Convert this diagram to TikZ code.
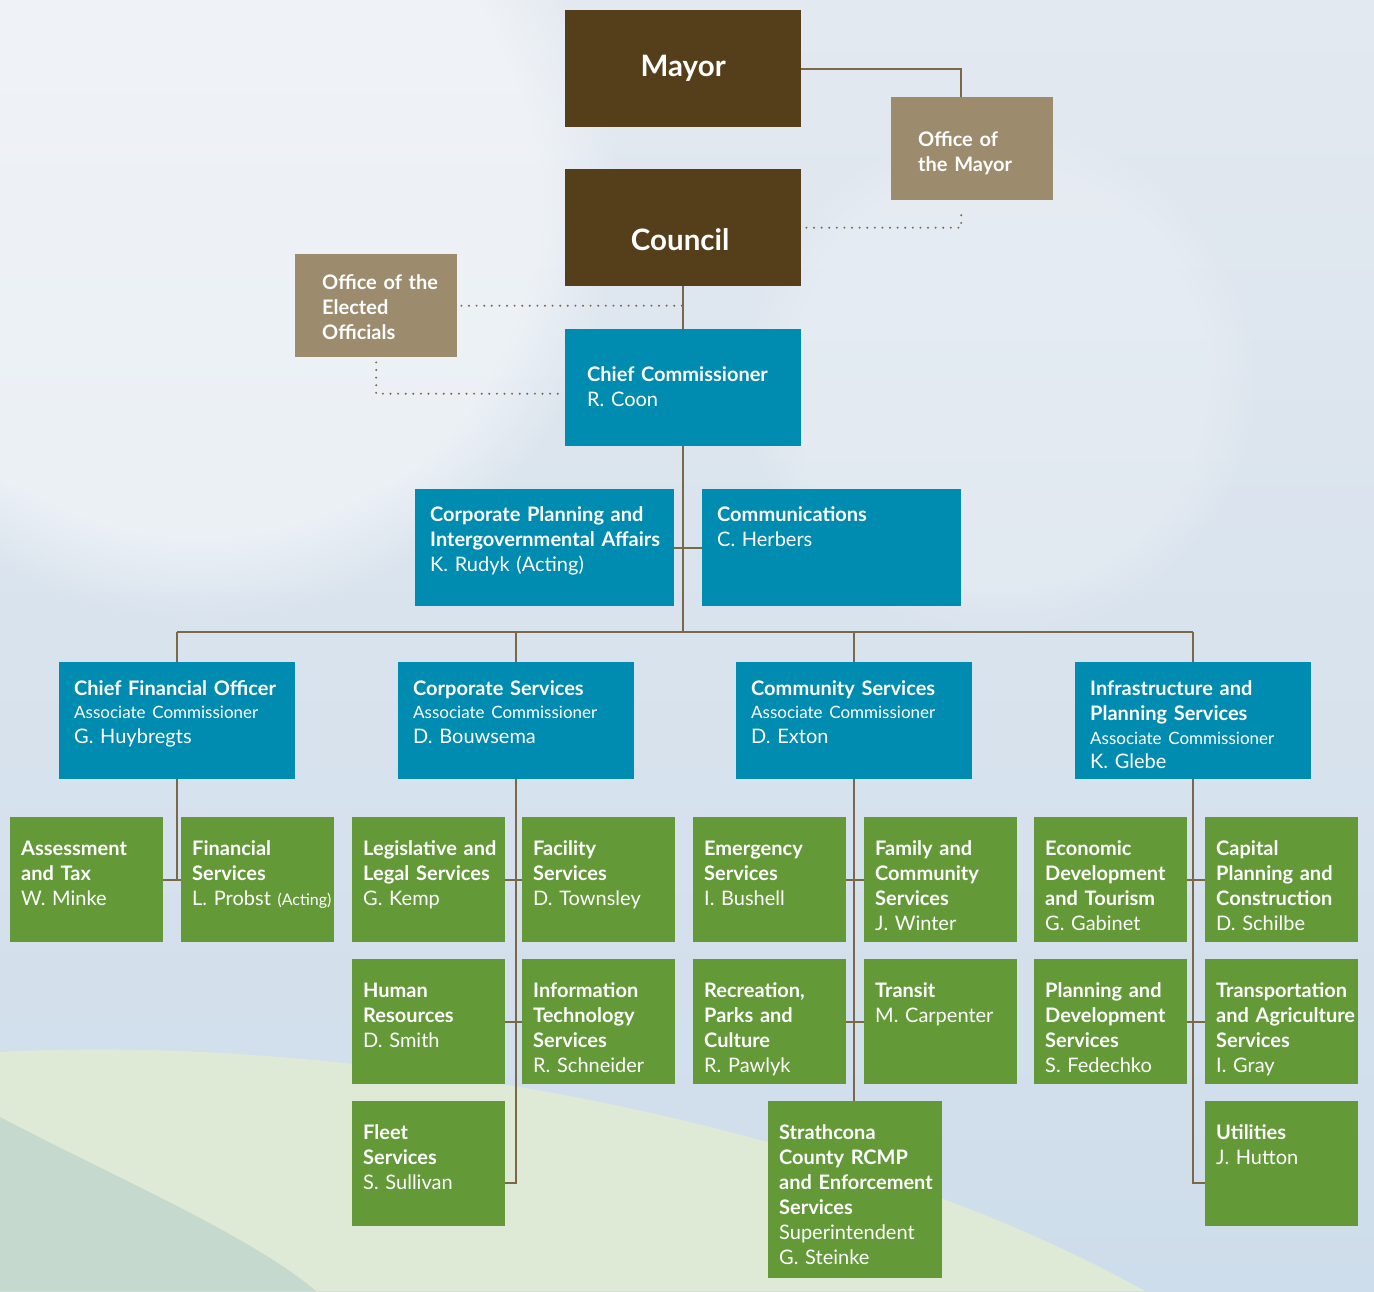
\documentclass[tikz,border=0pt]{standalone}
\usepackage{fontspec}
\setmainfont{Lato}
\usetikzlibrary{fadings}
\definecolor{mayorbrown}{HTML}{553F1A}
\definecolor{officetan}{HTML}{9C8B6D}
\definecolor{orgblue}{HTML}{008BB0}
\definecolor{orggreen}{HTML}{639A37}
\definecolor{linkbrown}{HTML}{7A6847}
\definecolor{skytop}{HTML}{E3E9F0}
\definecolor{skybottom}{HTML}{CEDDEB}
\definecolor{hilllight}{HTML}{DFEAD6}
\definecolor{hilldark}{HTML}{C5D9CE}
\newcommand\assocfont{\fontsize{17}{25}\selectfont}
\tikzset{
  orgbox/.style={anchor=north west, text=white, align=left, inner sep=0pt,
    font=\fontsize{20}{25}\selectfont},
  greenbox/.style={orgbox, fill=orggreen, text width=153pt,
    text height=38pt, text depth=87pt,
    execute at begin node={\hyphenpenalty=10000 \leftskip=11pt}},
  bluebox/.style={orgbox, fill=orgblue, text width=236pt,
    text height=33pt, text depth=84pt,
    execute at begin node={\hyphenpenalty=10000 \leftskip=15pt}},
  tanbox/.style={orgbox, fill=officetan, text width=162pt,
    execute at begin node={\hyphenpenalty=10000 \leftskip=27pt}},
  brownbox/.style={anchor=north west, text=white, fill=mayorbrown, align=center,
    inner sep=0pt, text width=236pt, font=\fontsize{29.5}{30}\selectfont\bfseries},
  conn/.style={draw=linkbrown, line width=2pt},
  dotconn/.style={draw=linkbrown, line width=2.2pt, line cap=round,
    dash pattern=on 0pt off 7.6pt}
}
\begin{document}
\begin{tikzpicture}[x=1pt,y=-1pt]
\useasboundingbox (0,0) rectangle (1374,1291);
% sky and hills
\shade[top color=skytop, bottom color=skybottom] (0,0) rectangle (1374,1291);
\fill[white, opacity=0.45, path fading=circle with fuzzy edge 20 percent] (200,200) circle (420);
\fill[white, opacity=0.2, path fading=circle with fuzzy edge 20 percent] (1000,380) circle (260);
\fill[hilllight] (0,1052) .. controls (300,1035) and (800,1100) .. (1145,1291) -- (0,1291) -- cycle;
\fill[hilldark] (0,1117) .. controls (110,1175) and (250,1235) .. (316,1291) -- (0,1291) -- cycle;

% top of the chart
\node[brownbox, text height=66pt, text depth=51pt] (mayor) at (565,10) {Mayor};
\node[brownbox, text height=81pt, text depth=36pt] (council) at (565,169) {\hspace*{-6pt}Council};
\node[tanbox, text height=49pt, text depth=54pt] (omayor) at (891,97)
  {\textbf{Office of}\\\textbf{the Mayor}};
\node[tanbox, text height=35pt, text depth=68pt] (oelect) at (295,254)
  {\textbf{Office of the}\\\textbf{Elected}\\\textbf{Officials}};
\node[bluebox, text height=52pt, text depth=65pt, execute at begin node={\leftskip=22pt}] (chief) at (565,329)
  {\textbf{Chief Commissioner}\\R. Coon};
\node[bluebox, text width=259pt, text height=32pt, text depth=85pt] (cpia) at (415,489)
  {\textbf{Corporate Planning and}\\\textbf{Intergovernmental Affairs}\\K. Rudyk (Acting)};
\node[bluebox, text width=259pt, text height=32pt, text depth=85pt] (comms) at (702,489)
  {\textbf{Communications}\\C. Herbers};
\coordinate (bus) at (0,632);

% associate commissioners
\node[bluebox] (cfo) at (59,662)
  {\textbf{Chief Financial Officer}\\[-2pt]{\assocfont Associate Commissioner}\\G. Huybregts};
\node[bluebox] (corp) at (398,662)
  {\textbf{Corporate Services}\\[-2pt]{\assocfont Associate Commissioner}\\D. Bouwsema};
\node[bluebox] (commsvc) at (736,662)
  {\textbf{Community Services}\\[-2pt]{\assocfont Associate Commissioner}\\D. Exton};
\node[bluebox] (infra) at (1075,662)
  {\textbf{Infrastructure and}\\\textbf{Planning Services}\\[-1pt]{\assocfont Associate Commissioner}\\[-1pt]K. Glebe};

% departments
\node[greenbox] (asmt) at (10,817) {\textbf{Assessment}\\\textbf{and Tax}\\W. Minke};
\node[greenbox] (finsvc) at (181,817) {\textbf{Financial}\\\textbf{Services}\\\mbox{L. Probst {\fontsize{16}{25}\selectfont(Acting)}}};
\node[greenbox] (legal) at (352,817) {\textbf{Legislative and}\\\textbf{Legal Services}\\G. Kemp};
\node[greenbox] (facil) at (522,817) {\textbf{Facility}\\\textbf{Services}\\D. Townsley};
\node[greenbox] (emerg) at (693,817) {\textbf{Emergency}\\\textbf{Services}\\I. Bushell};
\node[greenbox] (family) at (864,817) {\textbf{Family and}\\\textbf{Community}\\\textbf{Services}\\J. Winter};
\node[greenbox] (econ) at (1034,817) {\textbf{Economic}\\\textbf{Development}\\\textbf{and Tourism}\\G. Gabinet};
\node[greenbox] (capital) at (1205,817) {\textbf{Capital}\\\textbf{Planning and}\\\textbf{Construction}\\D. Schilbe};

\node[greenbox] (hr) at (352,959) {\textbf{Human}\\\textbf{Resources}\\D. Smith};
\node[greenbox] (it) at (522,959) {\textbf{Information}\\\textbf{Technology}\\\textbf{Services}\\R. Schneider};
\node[greenbox] (rec) at (693,959) {\textbf{Recreation,}\\\textbf{Parks and}\\\textbf{Culture}\\R. Pawlyk};
\node[greenbox] (transit) at (864,959) {\textbf{Transit}\\M. Carpenter};
\node[greenbox] (plan) at (1034,959) {\textbf{Planning and}\\\textbf{Development}\\\textbf{Services}\\S. Fedechko};
\node[greenbox] (transp) at (1205,959) {\textbf{Transportation}\\\textbf{and Agriculture}\\\textbf{Services}\\I. Gray};

\node[greenbox] (fleet) at (352,1101) {\textbf{Fleet}\\\textbf{Services}\\S. Sullivan};
\node[greenbox, text width=174pt, text depth=139pt] (rcmp) at (768,1101)
  {\textbf{Strathcona}\\\textbf{County RCMP}\\\textbf{and Enforcement}\\\textbf{Services}\\Superintendent\\G. Steinke};
\node[greenbox] (util) at (1205,1101) {\textbf{Utilities}\\J. Hutton};

% connectors
\draw[conn] (mayor.east) -| ([xshift=-11pt]omayor.north);
\draw[dotconn] ([xshift=5pt]council.east) -| ([xshift=-11pt,yshift=-9pt]omayor.south);
\draw[dotconn] ([xshift=4pt]oelect.east) -- (oelect.east -| council.south);
\draw[dotconn] ([yshift=-5pt]oelect.south) |- ([xshift=-4pt,yshift=-6pt]chief.west);
\draw[conn] (council.south) -- (chief.north);
\draw[conn] (chief.south) -- (chief.south |- bus);
\draw[conn] (cpia.east) -- (comms.west);
\draw[conn] (cfo.north |- bus) -- (infra.north |- bus);
\foreach \n in {cfo,corp,commsvc,infra}
  \draw[conn] (\n.north) -- (\n.north |- bus);

\coordinate (fleetstub) at ([yshift=-19pt]fleet.east);
\coordinate (utilstub) at ([yshift=-19pt]util.west);
\draw[conn] (cfo.south) -- (cfo.south |- asmt.east);
\draw[conn] (asmt.east) -- (finsvc.west);
\draw[conn] (corp.south) -- (corp.south |- fleetstub) -- (fleetstub);
\draw[conn] (legal.east) -- (facil.west);
\draw[conn] (hr.east) -- (it.west);
\draw[conn] (commsvc.south) -- (commsvc.south |- rcmp.north);
\draw[conn] (emerg.east) -- (family.west);
\draw[conn] (rec.east) -- (transit.west);
\draw[conn] (infra.south) -- (infra.south |- utilstub) -- (utilstub);
\draw[conn] (econ.east) -- (capital.west);
\draw[conn] (plan.east) -- (transp.west);
\end{tikzpicture}
\end{document}
